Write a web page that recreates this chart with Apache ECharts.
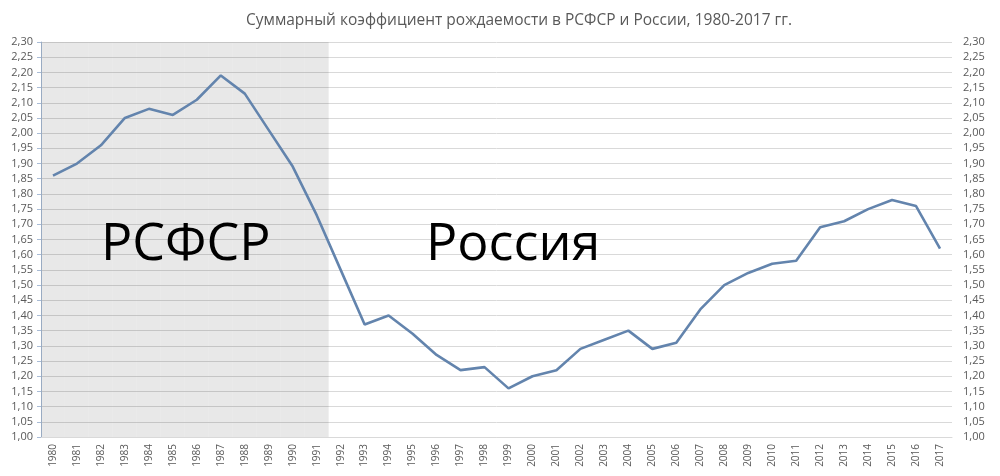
<!DOCTYPE html>
<html>
<head>
<meta charset="utf-8">
<title>Суммарный коэффициент рождаемости</title>
<script src="https://cdn.jsdelivr.net/npm/echarts@6/dist/echarts.min.js"></script>
<style>
  html, body { margin: 0; padding: 0; background: #fff; }
  #main { width: 1000px; height: 476px; }
</style>
</head>
<body>
<div id="main"></div>
<script>
// годы и значения СКР
var years = ['1980','1981','1982','1983','1984','1985','1986','1987','1988','1989',
  '1990','1991','1992','1993','1994','1995','1996','1997','1998','1999',
  '2000','2001','2002','2003','2004','2005','2006','2007','2008','2009',
  '2010','2011','2012','2013','2014','2015','2016','2017'];
var tfr = [1.86, 1.90, 1.96, 2.05, 2.08, 2.06, 2.11, 2.19, 2.13, 2.01,
  1.89, 1.73, 1.55, 1.37, 1.40, 1.34, 1.27, 1.22, 1.23, 1.16,
  1.20, 1.22, 1.29, 1.32, 1.35, 1.29, 1.31, 1.42, 1.50, 1.54,
  1.57, 1.58, 1.69, 1.71, 1.75, 1.78, 1.76, 1.62];
// период РСФСР (последний год)
var rsfsrLastYear = '1991';
var yMin = 1, yMax = 2.3, yStep = 0.05;

var font = '"Open Sans", "Noto Sans", sans-serif';
var labelColor = '#595959';
function fmt(v) { return v.toFixed(2).replace('.', ','); }

// серая заливка для лет РСФСР — столбцы во всю высоту
var shade = years.map(function (y) { return y <= rsfsrLastYear ? yMax : null; });

var chart = echarts.init(document.getElementById('main'));
chart.setOption({
  animation: false,
  title: {
    text: 'Суммарный коэффициент рождаемости в РСФСР и России, 1980-2017 гг.',
    left: 514, top: 8, textAlign: 'center',
    textStyle: { fontFamily: font, fontSize: 15.5, fontWeight: 'normal', color: labelColor }
  },
  grid: { left: 41, right: 48, top: 42, bottom: 39 },
  xAxis: {
    type: 'category',
    data: years,
    boundaryGap: true,
    axisLine: { lineStyle: { color: '#d9d9d9' } },
    axisTick: { show: false },
    axisLabel: { interval: 0, rotate: 90, fontFamily: font, fontSize: 10, color: labelColor, margin: 7 }
  },
  yAxis: [{
    type: 'value', min: yMin, max: yMax, interval: yStep,
    axisLine: { show: true, lineStyle: { color: '#a9bcd6' } },
    axisTick: { show: true, length: 4, lineStyle: { color: '#a9bcd6' } },
    axisLabel: { formatter: fmt, fontFamily: font, fontSize: 11, color: labelColor, margin: 8 },
    splitLine: { lineStyle: { color: '#d9d9d9' } }
  }, {
    type: 'value', min: yMin, max: yMax, interval: yStep, position: 'right',
    axisLine: { show: false },
    axisTick: { show: false },
    axisLabel: { formatter: fmt, fontFamily: font, fontSize: 11, color: labelColor, margin: 11 },
    splitLine: { show: false }
  }],
  graphic: [
    { type: 'text', left: 101, top: 219, z: 100,
      style: { text: 'РСФСР', font: '52px "Open Sans", "Noto Sans", sans-serif', fill: '#000' } },
    { type: 'text', left: 426, top: 219, z: 100,
      style: { text: 'Россия', font: '52px "Open Sans", "Noto Sans", sans-serif', fill: '#000' } }
  ],
  series: [{
    type: 'bar',
    data: shade,
    barWidth: '100%',
    silent: true,
    z: 1,
    itemStyle: { color: 'rgba(0,0,0,0.09)' }
  }, {
    type: 'line',
    data: tfr,
    symbol: 'none',
    z: 3,
    lineStyle: { color: '#6384ad', width: 2.6 }
  }]
});
</script>
</body>
</html>
